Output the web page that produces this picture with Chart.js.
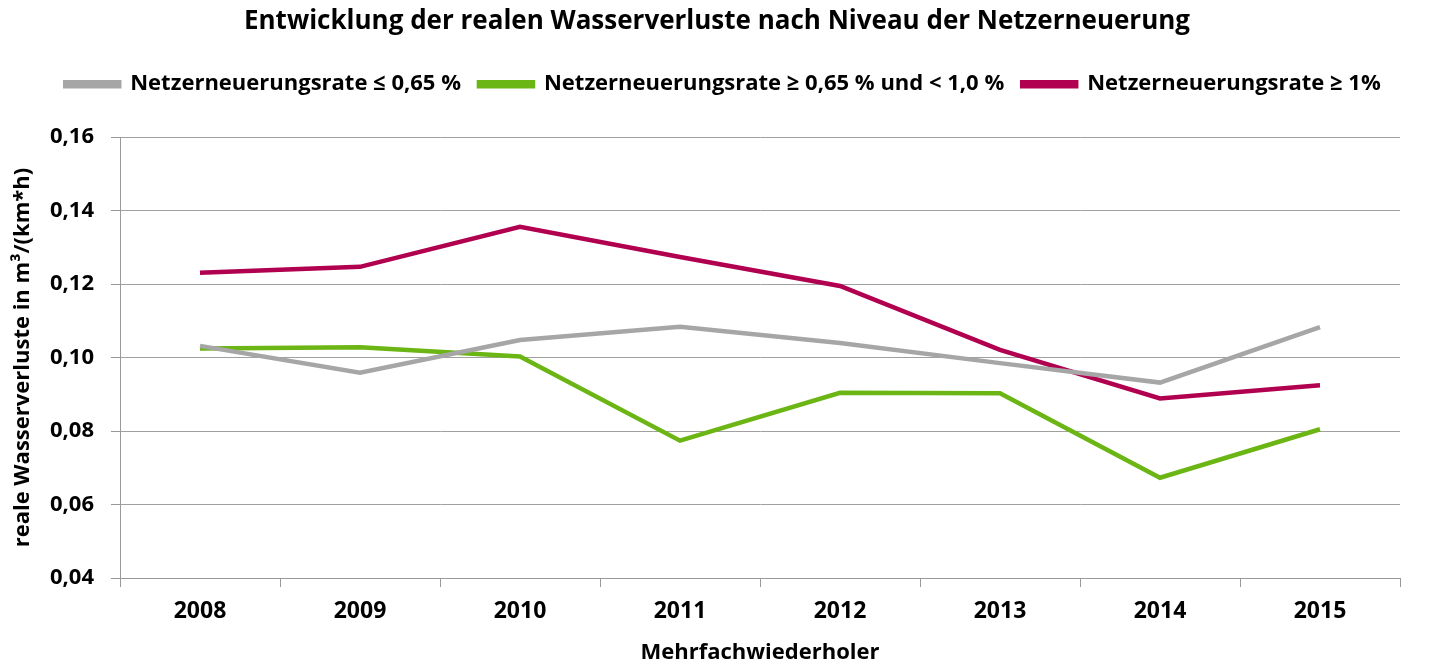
<!DOCTYPE html>
<html><head><meta charset="utf-8">
<script src="https://cdn.jsdelivr.net/npm/chart.js@4.4.1/dist/chart.umd.min.js"></script>
<style>html,body{margin:0;padding:0;background:#fff}#wrap{width:1429px;height:663px}</style>
</head><body><div id="wrap"><canvas id="c" width="1429" height="663"></canvas></div>
<script>
const categories = ['2008','2009','2010','2011','2012','2013','2014','2015'];
const seriesLow = [0.1032,0.0959,0.1048,0.1084,0.1040,0.0985,0.0932,0.1083];
const seriesMid = [0.1025,0.1028,0.1003,0.0774,0.0904,0.0903,0.0673,0.0805];
const seriesHigh = [0.1231,0.1247,0.1356,0.1274,0.1195,0.1021,0.0889,0.0925];
const seriesNames = ['Netzerneuerungsrate \u2264 0,65 %','Netzerneuerungsrate \u2265 0,65 % und < 1,0 %','Netzerneuerungsrate \u2265 1%'];
const yTicks = [0.04,0.06,0.08,0.10,0.12,0.14,0.16];
const FONT = '"Open Sans"';
const colors = ['#a6a6a6','#6bb514','#b0004f'];
function ds(label, data, color){return {label, data, borderColor: color, backgroundColor: color, borderWidth: 4.5, pointRadius: 0, tension: 0, fill: false};}
const legendSpacer = {
  id: 'legendSpacer',
  beforeInit(chart) {
    const origFit = chart.legend.fit;
    chart.legend.fit = function() { origFit.call(this); this.height += 32; };
  },
  afterLayout(chart) {
    const t = chart.titleBlock; t.left += 12; t.right += 12;
    const l = chart.legend; l.left += 18; l.right += 18;
  }
};
new Chart(document.getElementById('c'), {
  type: 'line',
  plugins: [legendSpacer],
  data: {labels: categories, datasets: [ds(seriesNames[0], seriesLow, colors[0]), ds(seriesNames[1], seriesMid, colors[1]), ds(seriesNames[2], seriesHigh, colors[2])]},
  options: {
    responsive: false, animation: false, devicePixelRatio: 1,
    layout: {padding: {left: 10, right: 29, top: 2, bottom: 0}},
    plugins: {
      title: {display: true, text: 'Entwicklung der realen Wasserverluste nach Niveau der Netzerneuerung', color: '#000', font: {family: FONT, size: 26, weight: 'bold'}, padding: {top: 4, bottom: 18}},
      legend: {display: true, labels: {color: '#000', font: {family: FONT, size: 22, weight: 'bold'}, boxWidth: 54, boxHeight: 4, padding: 18}},
      tooltip: {enabled: false}
    },
    scales: {
      x: {offset: true,
        afterFit: (s) => { s.height = 85; },
        grid: {offset: true, drawOnChartArea: false, color: '#999', tickLength: 9, tickColor: '#999'},
        border: {color: '#999', width: 1},
        ticks: {color: '#000', font: {family: FONT, size: 23, weight: 'bold'}, padding: 11, maxRotation: 0},
        title: {display: true, text: 'Mehrfachwiederholer', color: '#000', font: {family: FONT, size: 22, weight: 'bold'}, padding: {top: 6, bottom: -3}}
      },
      y: {min: 0.04, max: 0.16,
        afterBuildTicks: (s) => { s.ticks = yTicks.map(v => ({value: v})); },
        afterFit: (s) => { s.width = 110; },
        grid: {color: '#a0a0a0', tickLength: 9, tickColor: '#999'},
        border: {color: '#999', width: 1},
        ticks: {color: '#000', font: {family: FONT, size: 22, weight: 'bold'}, padding: 17, callback: (v) => v.toFixed(2).replace('.', ',')},
        title: {display: true, text: 'reale Wasserverluste in m\u00b3/(km*h)', color: '#000', font: {family: FONT, size: 22, weight: 'bold'}, padding: {top: 0, bottom: 0}}
      }
    }
  }
});
</script></body></html>
